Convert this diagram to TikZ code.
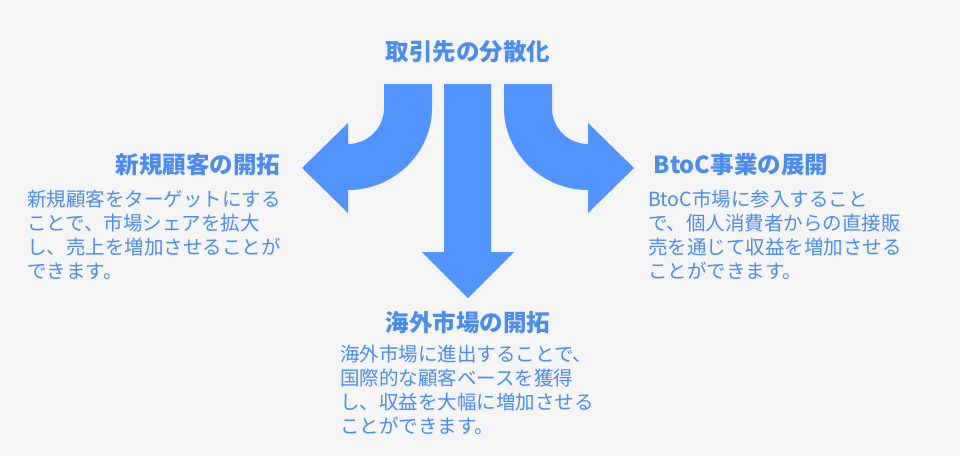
\documentclass[tikz,border=0pt]{standalone}
\usepackage{fontspec}
\setmainfont{Noto Sans CJK JP}
\definecolor{bg}{HTML}{F5F5F5}
\definecolor{arr}{HTML}{5294FF}
\definecolor{ttl}{HTML}{4A8CF0}
\definecolor{txt}{HTML}{4A8CF0}
\begin{document}
\begin{tikzpicture}[x=1pt,y=-1pt,
  ttlstyle/.style={font=\fontsize{23.5}{28}\selectfont\bfseries,text=ttl,inner sep=0},
  bodystyle/.style={font=\fontsize{19.5}{24}\selectfont,text=txt,align=left,anchor=north west,inner sep=0},
  arrstyle/.style={fill=arr,draw=none}]
\fill[bg] (0,0) rectangle (960,456);
\useasboundingbox (0,0) rectangle (960,456);
% center arrow
\fill[arrstyle] (444,84) -- (491,84) -- (491,252) -- (514,252) -- (468,298) -- (422,252) -- (444,252) -- cycle;
% left arrow
\fill[arrstyle] (384,84) -- (432,84) -- (432,108) .. controls (432,153) and (394,190) .. (348,190) -- (348,213) -- (302,168) -- (348,123) -- (348,144) .. controls (368,144) and (384,128) .. (384,108) -- cycle;
% right arrow
\fill[arrstyle] (552,84) -- (504,84) -- (504,108) .. controls (504,153) and (542,190) .. (588,190) -- (588,213) -- (634,168) -- (588,123) -- (588,144) .. controls (568,144) and (552,128) .. (552,108) -- cycle;
\node[ttlstyle] (t0) at (468,52) {取引先の分散化};
\node[ttlstyle] (t1) at (198,165) {新規顧客の開拓};
\node[ttlstyle] (t2) at (741,165) {BtoC事業の展開};
\node[ttlstyle] (t3) at (468,323) {海外市場の開拓};
\node[bodystyle] (b1) at (27,190) {新規顧客をターゲットにする\\ことで、市場シェアを拡大\\し、売上を増加させることが\\できます。};
\node[bodystyle] (b2) at (648,190) {BtoC市場に参入すること\\で、個人消費者からの直接販\\売を通じて収益を増加させる\\ことができます。};
\node[bodystyle] (b3) at (340,345) {海外市場に進出することで、\\国際的な顧客ベースを獲得\\し、収益を大幅に増加させる\\ことができます。};
\end{tikzpicture}
\end{document}
